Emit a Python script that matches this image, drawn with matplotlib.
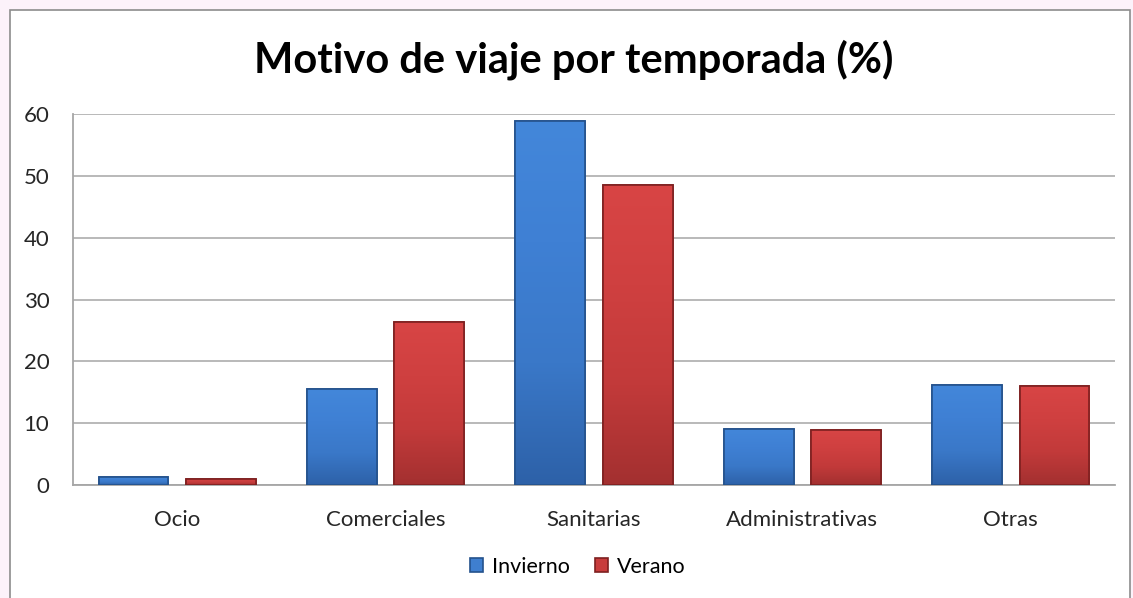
import matplotlib
matplotlib.use("Agg")
from matplotlib import pyplot as plt
from matplotlib.patches import Rectangle
from matplotlib.colors import LinearSegmentedColormap
import numpy as np

# data
categorias = ["Ocio", "Comerciales", "Sanitarias", "Administrativas", "Otras"]
invierno = [1.3, 15.5, 58.9, 9.1, 16.2]
verano = [1.0, 26.4, 48.5, 8.9, 16.0]
series = ["Invierno", "Verano"]
yticks = [0, 10, 20, 30, 40, 50, 60]

plt.rcParams['font.family'] = ['Lato', 'DejaVu Sans']

fig = plt.figure(figsize=(11.33, 5.98), dpi=100)
fig.patch.set_facecolor('#fcf2fa')

# white chart area with grey border
fig.patches.append(Rectangle((10/1133, -0.01), 1120/1133, (588/598)+0.01,
                             transform=fig.transFigure, facecolor='white',
                             edgecolor='#8c8c8c', lw=1.2, zorder=-5))

ax = fig.add_axes([73/1133, 113/598, 1042/1133, 371/598])
ax.set_facecolor('none')

x = np.arange(len(categorias))
w = 0.335
off = 0.21
b1 = ax.bar(x - off, invierno, w, color='#3f7fcf', edgecolor='#24528c', lw=1.2, label=series[0], zorder=3)
b2 = ax.bar(x + off, verano, w, color='#c83c3c', edgecolor='#7e2020', lw=1.2, label=series[1], zorder=3)

# shaded fill like the original bevelled bars
cm_b = LinearSegmentedColormap.from_list('b', ['#2d61a8', '#3a78c8', '#3f80d4', '#4387da'])
cm_r = LinearSegmentedColormap.from_list('r', ['#a33030', '#c23a3a', '#cf4040', '#d84545'])
grad = np.linspace(0, 1, 256).reshape(-1, 1)
for bars, cm in [(b1, cm_b), (b2, cm_r)]:
    for p in bars:
        x0, y0 = p.get_x(), p.get_y()
        im = ax.imshow(grad, cmap=cm, origin='lower', aspect='auto', zorder=3.5,
                       extent=[x0, x0 + p.get_width(), y0, y0 + p.get_height()])
        im.set_clip_path(p)
        ax.add_patch(Rectangle((x0, y0), p.get_width(), p.get_height(), fill=False,
                               edgecolor=p.get_edgecolor(), lw=1.2, zorder=4))
ax.set_xlim(-0.5, len(categorias) - 0.5)
ax.set_ylim(0, 60)

ax.set_yticks(yticks)
ax.set_xticks(x)
ax.set_xticklabels(categorias)
ax.tick_params(axis='both', length=0, labelsize=16, colors='#262626')
ax.tick_params(axis='x', pad=18)
ax.tick_params(axis='y', pad=17)
ax.yaxis.grid(True, color='#b3b3b3', lw=1.3, zorder=0)
ax.set_axisbelow(True)
for s in ['top', 'right']:
    ax.spines[s].set_visible(False)
for s in ['left', 'bottom']:
    ax.spines[s].set_color('#a6a6a6')
    ax.spines[s].set_linewidth(1.3)

fig.text(0.506, 0.9, "Motivo de viaje por temporada (%)", ha='center', va='center',
         fontsize=30, fontweight='bold', color='black')

fig.legend(loc='center', bbox_to_anchor=(0.51, 0.052), ncol=2, frameon=False,
           fontsize=15.5, handlelength=0.6, handleheight=0.6, handletextpad=0.4,
           columnspacing=1.2)

fig.savefig("out.png", dpi=100, facecolor=fig.get_facecolor())
